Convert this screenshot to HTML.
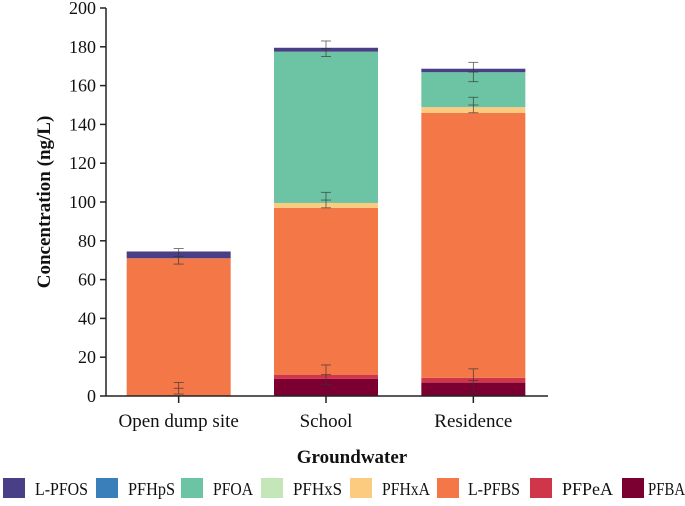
<!DOCTYPE html>
<html><head><meta charset="utf-8"><style>
body{margin:0;background:#fff;width:685px;height:501px;overflow:hidden;font-family:"Liberation Serif",serif}
</style></head><body>
<svg id="c" width="685" height="501" font-family="Liberation Serif, serif"></svg>
<script>
const categories=["Open dump site","School","Residence"];
const seriesNames=["PFBA","PFPeA","L-PFBS","PFHxA","PFHxS","PFOA","PFHpS","L-PFOS"];
const colors=["#7b0031","#d0364a","#f47748","#fccb7f","#c5e6b9","#6cc4a4","#3a7fb9","#483f86"];
const PFBA=[0,8.8,6.9];
const PFPeA=[0,2.2,2.5];
const LPFBS=[71,86,136.5];
const PFHxA=[0,2.5,3];
const PFHxS=[0,0,0];
const PFOA=[0,78,18];
const PFHpS=[0,0,0];
const LPFOS=[3.5,2,1.8];
const errCenters=[[4,72,0],[11,101,179],[8,150,167]];
const errHalf=[[3,4,0],[5,4,4],[6,4,5]];
const yTicks=[0,20,40,60,80,100,120,140,160,180,200];
const NS="http://www.w3.org/2000/svg";
const svg=document.getElementById('c');
const x0=106,x1=548,yB=396,yT=8;
const y=v=>yB-(v/200)*(yB-yT);
const bandW=(x1-x0)/3, barW=104;
const xc=i=>x0+bandW*(i+0.5)-1;
function mk(t,a,p){const e=document.createElementNS(NS,t);for(const k in a)e.setAttribute(k,a[k]);(p||svg).appendChild(e);return e;}
const data=[PFBA,PFPeA,LPFBS,PFHxA,PFHxS,PFOA,PFHpS,LPFOS];
categories.forEach((c,i)=>{
  let acc=0;
  data.forEach((s,j)=>{
    if(s[i]<=0)return;
    const r=mk('rect',{x:xc(i)-barW/2,y:y(acc+s[i]),width:barW,height:y(acc)-y(acc+s[i]),fill:colors[j]});
    
    
    acc+=s[i];
  });
  errCenters[i].forEach((m,k)=>{
    const h=errHalf[i][k]; if(!h)return;
    const g=mk('g',{stroke:'#333','stroke-width':0.8,opacity:0.8});
    
    
    mk('line',{x1:xc(i),x2:xc(i),y1:y(m-h),y2:y(m+h)},g);
    [m-h,m+h,m].forEach(v=>mk('line',{x1:xc(i)-5,x2:xc(i)+5,y1:y(v),y2:y(v)},g));
  });
  const t=mk('line',{x1:xc(i),x2:xc(i),y1:yB,y2:yB+7,stroke:'#222','stroke-width':1.5});
  
  
  const l=mk('text',{x:xc(i),y:427,'text-anchor':'middle','font-size':19,fill:'#111'});
  l.textContent=c;
  
  
});
yTicks.forEach(v=>{
  const t=mk('line',{x1:x0-6,x2:x0,y1:y(v),y2:y(v),stroke:'#222','stroke-width':1.5});
  
  
  const l=mk('text',{x:x0-10,y:y(v)+6,'text-anchor':'end','font-size':18,fill:'#111'});
  l.textContent=v;
  
  
});
const ya=mk('line',{x1:x0,x2:x0,y1:yT,y2:yB,stroke:'#222','stroke-width':1.5});


const xa=mk('line',{x1:x0,x2:x1,y1:yB,y2:yB,stroke:'#222','stroke-width':1.5});


const yt=mk('text',{x:0,y:0,transform:'translate(50,202) rotate(-90)','text-anchor':'middle','font-size':19,'font-weight':'bold',fill:'#111'});
yt.textContent='Concentration (ng/L)';


const xt=mk('text',{x:352,y:463,'text-anchor':'middle','font-size':19,'font-weight':'bold',fill:'#111'});
xt.textContent='Groundwater';


const legOrder=[7,6,5,4,3,2,1,0];
const legX=[3,96,181,261,350,437,530,622];
const legTX=[35,128,213,293,382,468,562,648];
const legTW=[53,47,40,49,48,52,51,37];
legOrder.forEach((j,k)=>{
  const g=mk('g',{});
  
  
  mk('rect',{x:legX[k],y:478,width:22,height:20,fill:colors[j]},g);
  const t=mk('text',{x:legTX[k],y:495,'font-size':18,fill:'#111',textLength:legTW[k],lengthAdjust:'spacingAndGlyphs'},g);
  t.textContent=seriesNames[j];
});
</script>
</body></html>
